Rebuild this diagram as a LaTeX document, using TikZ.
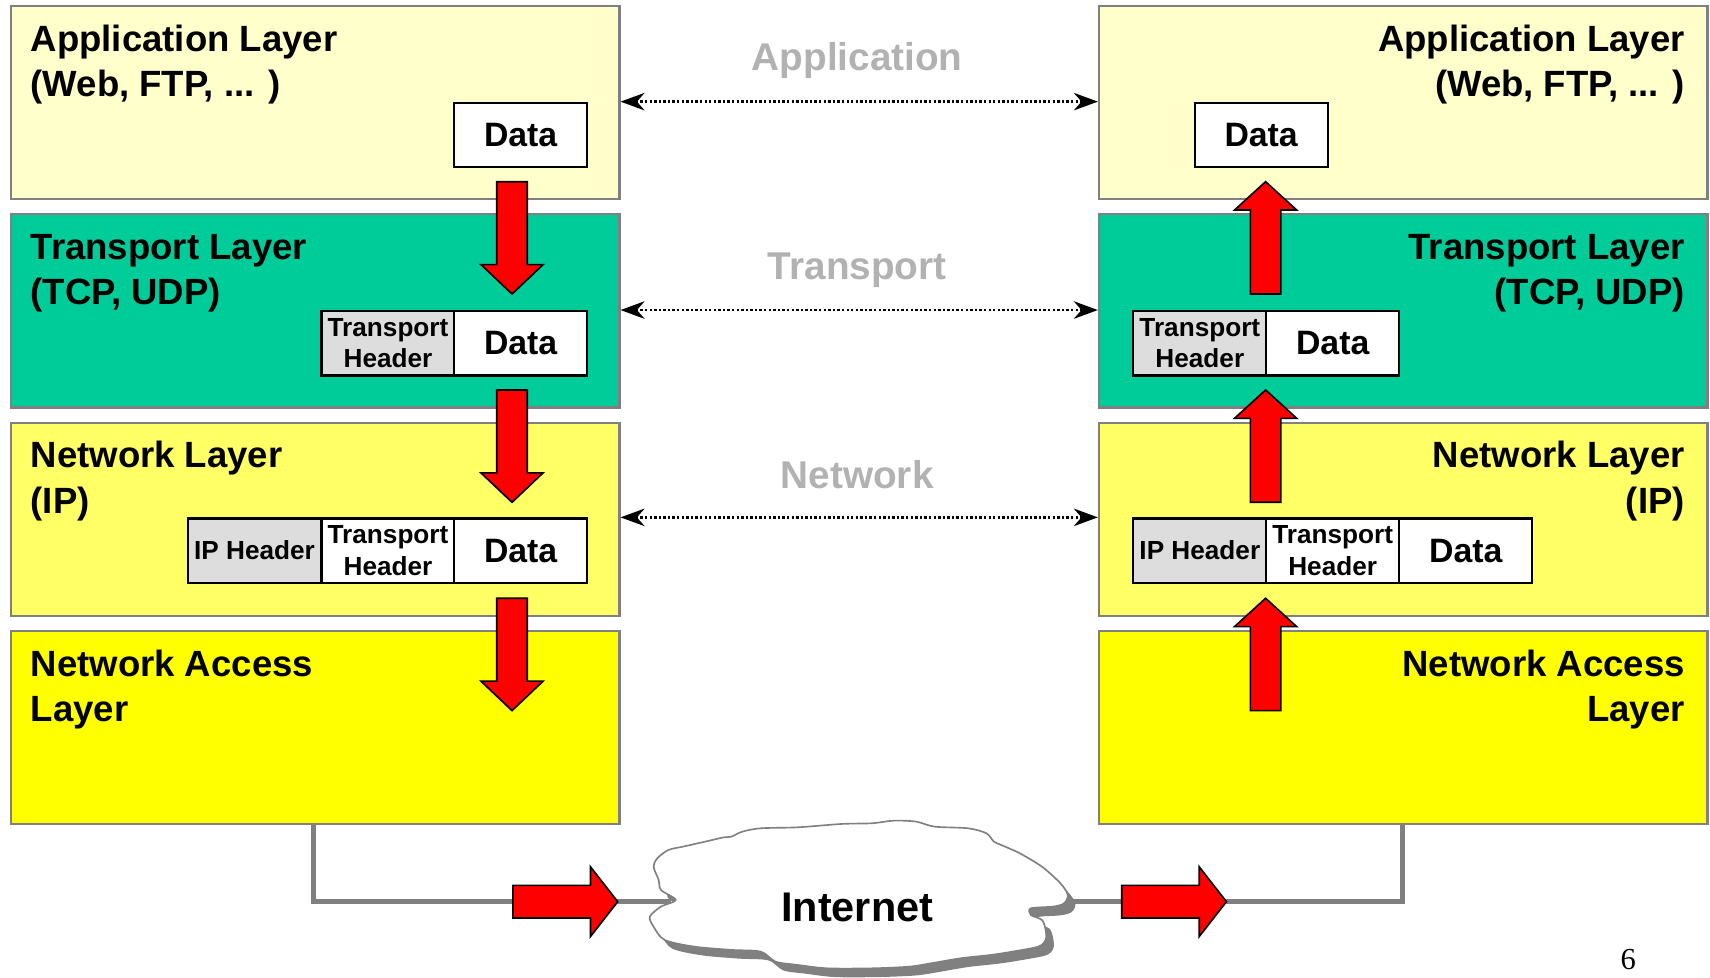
\documentclass[tikz,border=0pt]{standalone}
\usepackage{fontspec}
\setmainfont{Liberation Sans}
\newfontfamily\numfont{Liberation Serif}
\usetikzlibrary{arrows.meta}
\definecolor{appc}{HTML}{FFFFCC}
\definecolor{trc}{HTML}{00CC99}
\definecolor{netc}{HTML}{FFFF66}
\definecolor{nac}{HTML}{FFFF00}
\definecolor{bordc}{HTML}{808080}
\definecolor{hdrc}{HTML}{DDDDDD}
\definecolor{lblc}{HTML}{B2B2B2}
\begin{document}
\begin{tikzpicture}[x=1pt,y=-1pt,
 layerbox/.style={draw=bordc, line width=2pt, minimum width=558pt, minimum height=177pt, anchor=north west, inner sep=0pt},
 ttl/.style={inner sep=0pt, font=\fontsize{33.5}{40}\selectfont\bfseries},
 pkt/.style={draw=black, line width=2pt, fill=white, minimum width=122pt, minimum height=59pt, inner sep=0pt, anchor=north west},
 datab/.style={pkt, font=\fontsize{31}{36}\selectfont\bfseries},
 hdrb/.style={pkt, fill=hdrc, align=center, font=\fontsize{24}{29}\selectfont\bfseries},
 hdrw/.style={hdrb, fill=white},
 peer/.style={line width=2.4pt, dash pattern=on 2.2pt off 2pt, {Stealth[length=22pt,width=16pt,inset=7pt]}-{Stealth[length=22pt,width=16pt,inset=7pt]}},
 glabel/.style={text=lblc, inner sep=0pt, anchor=base, font=\fontsize{35.5}{40}\selectfont\bfseries},
 redarr/.style={fill=red, draw=black, line width=1.5pt, line join=miter},
 link/.style={draw=bordc, line width=4.5pt},
 downblk/.pic={\draw[redarr] (-14,0) -- (14,0) -- (14,76) -- (28.5,76) -- (0,103) -- (-28.5,76) -- (-14,76) -- cycle;},
 upblk/.pic={\draw[redarr] (-14,103) -- (14,103) -- (14,26) -- (28.5,26) -- (0,0) -- (-28.5,26) -- (-14,26) -- cycle;},
 rightblk/.pic={\draw[redarr] (0,-15) -- (71,-15) -- (71,-32) -- (96,0) -- (71,32) -- (71,15) -- (0,15) -- cycle;}
]
\useasboundingbox (0,0) rectangle (1568,896);
\fill[white] (0,0) rectangle (1568,896);

% layer boxes
\node[layerbox, fill=appc] (appL) at (9,4.6) {};
\node[layerbox, fill=trc]  (trL)  at (9,195.6) {};
\node[layerbox, fill=netc] (netL) at (9,386.6) {};
\node[layerbox, fill=nac]  (naL)  at (9,577.6) {};
\node[layerbox, fill=appc] (appR) at (1006.7,4.6) {};
\node[layerbox, fill=trc]  (trR)  at (1006.7,195.6) {};
\node[layerbox, fill=netc] (netR) at (1006.7,386.6) {};
\node[layerbox, fill=nac]  (naR)  at (1006.7,577.6) {};

% titles left
\node[ttl, anchor=base west] (tAL1) at (28,47.1) {Application Layer};
\node[ttl, anchor=base west] (tAL2) at (28,88.4) {(Web, FTP, ... )};
\node[ttl, anchor=base west] (tTL1) at (28,238.1) {Transport Layer};
\node[ttl, anchor=base west] (tTL2) at (28,279.4) {(TCP, UDP)};
\node[ttl, anchor=base west] (tNL1) at (28,429.1) {Network Layer};
\node[ttl, anchor=base west] (tNL2) at (28,470.4) {(IP)};
\node[ttl, anchor=base west] (tXL1) at (28,620.1) {Network Access};
\node[ttl, anchor=base west] (tXL2) at (28,661.4) {Layer};
% titles right
\node[ttl, anchor=base east] (tAR1) at (1545,47.1) {Application Layer};
\node[ttl, anchor=base east] (tAR2) at (1545,88.4) {(Web, FTP, ... )};
\node[ttl, anchor=base east] (tTR1) at (1545,238.1) {Transport Layer};
\node[ttl, anchor=base east] (tTR2) at (1545,279.4) {(TCP, UDP)};
\node[ttl, anchor=base east] (tNR1) at (1545,429.1) {Network Layer};
\node[ttl, anchor=base east] (tNR2) at (1545,470.4) {(IP)};
\node[ttl, anchor=base east] (tXR1) at (1545,620.1) {Network Access};
\node[ttl, anchor=base east] (tXR2) at (1545,661.4) {Layer};

% packets left
\node[datab] (dL1) at (415.4,93.2) {Data};
\node[hdrb] (thL2) at (293.8,284.3) {Transport\\Header};
\node[datab] (dL2) at (415.4,284.3) {Data};
\node[hdrb] (ipL3) at (171.4,474.4) {IP Header};
\node[hdrw] (thL3) at (293.8,474.4) {Transport\\Header};
\node[datab] (dL3) at (415.4,474.4) {Data};
% packets right
\node[datab] (dR1) at (1094.4,93.2) {Data};
\node[hdrb] (thR2) at (1038.2,284.3) {Transport\\Header};
\node[datab] (dR2) at (1160,284.3) {Data};
\node[hdrb] (ipR3) at (1038.2,474.4) {IP Header};
\node[hdrw] (thR3) at (1160,474.4) {Transport\\Header};
\node[datab] (dR3) at (1282,474.4) {Data};

% peer labels and arrows
\node[glabel] (gApp) at (786,65) {Application};
\node[glabel] (gTr) at (786,256) {Transport};
\node[glabel] (gNet) at (786,448) {Network};
\draw[peer] (appL.east |- dL1.north) -- (appR.west |- dL1.north);
\draw[peer] (trL.east |- dL2.north) -- (trR.west |- dL2.north);
\draw[peer] (netL.east |- dL3.north) -- (netR.west |- dL3.north);

% vertical block arrows
\pic at (469.5,166.6) {downblk};
\pic at (469.5,357.6) {downblk};
\pic at (469.5,548.6) {downblk};
\pic at (1160.5,166.6) {upblk};
\pic at (1160.5,357.6) {upblk};
\pic at (1160.5,548.6) {upblk};

% links to the cloud
\coordinate (cloudL) at (615,826.8);
\coordinate (cloudR) at (972,826.8);
\coordinate (xL) at (287.3,0);
\coordinate (xR) at (1285.7,0);
\draw[link] (naL.south -| xL) |- (cloudL);
\draw[link] (naR.south -| xR) |- (cloudR);

% cloud
\def\cloudpts{(619.6,825.2) (606.1,816.1) (604.0,806.9) (599.3,794.7) (602.7,787.0) (612.9,779.4) (626.4,776.3) (646.8,771.7) (663.7,767.8) (670.5,767.2) (680.7,762.6) (697.6,759.5) (731.6,758.6) (772.2,755.5) (799.4,754.9) (819.7,752.5) (840.1,753.4) (857.0,758.0) (887.6,759.5) (904.5,764.1) (911.3,771.7) (918.1,774.8) (935.0,782.4) (955.4,794.7) (972.3,809.9) (979.1,820.6) (975.7,828.3) (965.6,831.3) (945.2,832.9) (945.2,839.0) (955.4,843.6) (958.8,852.7) (958.8,861.9) (952.0,868.0) (928.3,872.6) (908.0,875.7) (880.8,878.7) (853.7,883.3) (833.3,886.4) (799.4,887.9) (758.7,887.9) (731.6,884.8) (711.2,881.8) (697.6,872.6) (670.5,871.0) (636.6,868.0) (609.5,861.9) (599.3,849.7) (595.9,840.5) (606.1,831.3)}
\fill[bordc, shift={(7,8)}] plot[smooth cycle, tension=0.5] coordinates {\cloudpts};
\draw[bordc, line width=1.5pt, fill=white] plot[smooth cycle, tension=0.5] coordinates {\cloudpts};
\node[font=\fontsize{38}{44}\selectfont\bfseries, inner sep=0pt] (inet) at (786,832) {Internet};

% horizontal block arrows
\pic at (470.4,826.8) {rightblk};
\pic at (1028.6,826.8) {rightblk};

% page number
\node[font=\fontsize{28}{32}\selectfont\numfont, inner sep=0pt] (pg) at (1493,880) {6};
\end{tikzpicture}
\end{document}
